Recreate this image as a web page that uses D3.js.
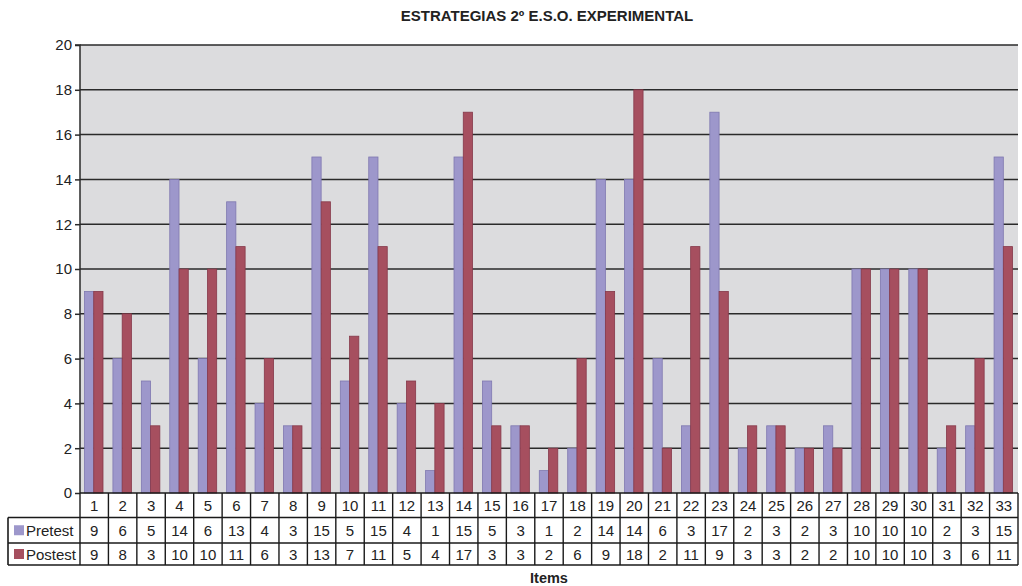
<!DOCTYPE html>
<html><head><meta charset="utf-8">
<script src="https://cdn.jsdelivr.net/npm/d3@7"></script>
<style>body{margin:0;background:#fff}svg{display:block}text{font-family:"Liberation Sans",Arial,sans-serif;fill:#222}</style>
</head><body><svg id="c" width="1022" height="586"></svg>
<script>
const items = d3.range(1, 34).map(String);
const pretest = [9,6,5,14,6,13,4,3,15,5,15,4,1,15,5,3,1,2,14,14,6,3,17,2,3,2,3,10,10,10,2,3,15];
const postest = [9,8,3,10,10,11,6,3,13,7,11,5,4,17,3,3,2,6,9,18,2,11,9,3,3,2,2,10,10,10,3,6,11];
const yTicks = [0,2,4,6,8,10,12,14,16,18,20];
const seriesNames = ["Pretest","Postest"];
const colors = ["#9d97cb","#a64f5f"];
const strokes = ["#7f78b0","#86394a"];

const svg = d3.select("#c");
const L = 80, R = 1018, T = 45, B = 493;
const x = d3.scaleBand().domain(items).range([L, R]);
const y = d3.scaleLinear().domain([0, 20]).range([B, T]);
const xs = d3.scaleBand().domain(seriesNames).range([4.5, 23]);

svg.append("rect").attr("x", L).attr("y", T).attr("width", R - L).attr("height", B - T).attr("fill", "#dcdcde");

// gridlines
svg.append("g").selectAll("line").data(yTicks.filter(t => t > 0)).join("line")
  .attr("x1", L).attr("x2", R).attr("y1", d => y(d)).attr("y2", d => y(d))
  .attr("stroke", "#2a2a2a").attr("stroke-width", 1.5);

// bars
const data = [pretest, postest];
seriesNames.forEach((s, si) => {
  svg.append("g").selectAll("rect").data(data[si]).join("rect")
    .attr("x", (d, i) => x(items[i]) + xs(s))
    .attr("width", xs.bandwidth())
    .attr("y", d => y(d))
    .attr("height", d => y(0) - y(d))
    .attr("fill", colors[si])
    .attr("stroke", strokes[si]).attr("stroke-width", 0.8);
});

// y axis
const yAxis = d3.axisLeft(y).tickValues(yTicks).tickSize(5).tickPadding(3);
const ga = svg.append("g").attr("transform", `translate(${L},0)`).call(yAxis);
ga.select(".domain").attr("stroke", "#2a2a2a").attr("stroke-width", 1.5).attr("d", `M-5,${T}H0V${B}`);
ga.selectAll(".tick line").attr("stroke", "#2a2a2a").attr("stroke-width", 1.5);
ga.selectAll(".tick text").attr("font-size", 15).attr("fill", "#222").attr("font-family", '"Liberation Sans",Arial,sans-serif');

// data table
const rowY = [493, 517.5, 543, 565];
const tbl = svg.append("g");
const lc = "#1a1a1a";
tbl.append("line").attr("x1", L).attr("x2", R).attr("y1", rowY[0]).attr("y2", rowY[0]).attr("stroke", lc).attr("stroke-width", 1.6);
[1, 2, 3].forEach(r => {
  tbl.append("line").attr("x1", 8).attr("x2", R).attr("y1", rowY[r]).attr("y2", rowY[r]).attr("stroke", lc).attr("stroke-width", 1.6);
});
const vx = items.map(c => x(c)).concat([R]);
tbl.selectAll("line.v").data(vx).join("line").attr("class", "v")
  .attr("x1", d => d).attr("x2", d => d).attr("y1", rowY[0]).attr("y2", rowY[3])
  .attr("stroke", lc).attr("stroke-width", 1.4);
tbl.append("line").attr("x1", 8).attr("x2", 8).attr("y1", rowY[1]).attr("y2", rowY[3]).attr("stroke", lc).attr("stroke-width", 1.6);

tbl.selectAll("text.cat").data(items).join("text").attr("class", "cat")
  .attr("x", d => x(d) + x.bandwidth() / 2).attr("y", (rowY[0] + rowY[1]) / 2 + 5.5)
  .attr("text-anchor", "middle").attr("font-size", 15).text(d => d);
data.forEach((arr, si) => {
  const cy = (rowY[si + 1] + rowY[si + 2]) / 2 + 5.5;
  tbl.selectAll("text.v" + si).data(arr).join("text").attr("class", "v" + si)
    .attr("x", (d, i) => x(items[i]) + x.bandwidth() / 2).attr("y", cy)
    .attr("text-anchor", "middle").attr("font-size", 15).text(d => d);
  tbl.append("rect").attr("x", 14).attr("y", cy - 10.5).attr("width", 10).attr("height", 10)
    .attr("fill", colors[si]);
  tbl.append("text").attr("x", 26).attr("y", cy).attr("font-size", 15).text(seriesNames[si]);
});

svg.append("text").attr("x", 547).attr("y", 21).attr("text-anchor", "middle")
  .attr("font-size", 15).attr("font-weight", "bold").text("ESTRATEGIAS 2º E.S.O. EXPERIMENTAL");
svg.append("text").attr("x", 549).attr("y", 583).attr("text-anchor", "middle")
  .attr("font-size", 14.5).attr("font-weight", "bold").text("Items");
</script></body></html>
